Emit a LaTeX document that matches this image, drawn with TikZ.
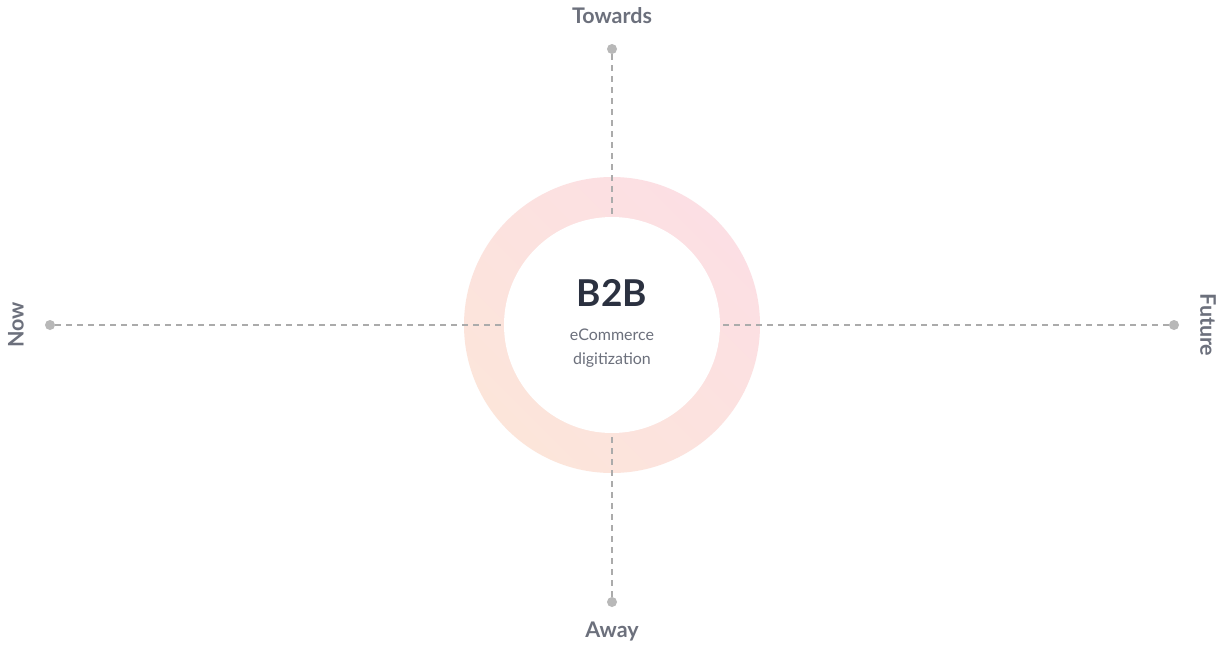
\documentclass[tikz,border=0pt]{standalone}
\usepackage{fontspec}
\setmainfont{Lato}
\begin{document}
\begin{tikzpicture}[x=1pt,y=-1pt,
  axis/.style={draw=black!33,dash pattern=on 6pt off 5pt,line width=1.1pt},
  dotn/.style={circle,fill=black!28,inner sep=0pt,minimum size=10pt},
  lab/.style={text=labc,font=\bfseries\fontsize{21.5}{23}\selectfont}]
\definecolor{peach}{HTML}{FCE5DA}
\definecolor{pinkk}{HTML}{FCDFE4}
\definecolor{labc}{HTML}{6C707C}
\definecolor{headc}{HTML}{2B3140}
\useasboundingbox (0,0) rectangle (1224,648);
\fill[white] (0,0) rectangle (1224,648);
\shade[left color=pinkk,right color=peach,shading angle=-45] (612,325) circle (148);
\fill[white] (612,325) circle (108);
\coordinate (c) at (612,325);
\node[dotn] (t) at (612,49) {};
\node[dotn] (b) at (612,602) {};
\node[dotn] (l) at (50,325) {};
\node[dotn] (r) at (1174,325) {};
\coordinate (ct) at (612,217);
\coordinate (cb) at (612,433);
\coordinate (cl) at (504,325);
\coordinate (cr) at (720,325);
\draw[axis] (t) -- (ct);
\draw[axis] (b) -- (cb);
\draw[axis] (l) -- (cl);
\draw[axis] (r) -- (cr);
\node[lab] (tt) at (612,16) {Towards};
\node[lab] (ta) at (612,632) {Away};
\node[lab,rotate=90] (tn) at (16,325) {Now};
\node[lab,rotate=-90] (tf) at (1208,325) {Future};
\node[text=headc,font=\bfseries\fontsize{37}{40}\selectfont] (h) at (612,293) {B2B};
\node[text=labc,align=center,font=\fontsize{16}{24}\selectfont] (s) at (612,348) {eCommerce\\digitization};
\end{tikzpicture}
\end{document}
